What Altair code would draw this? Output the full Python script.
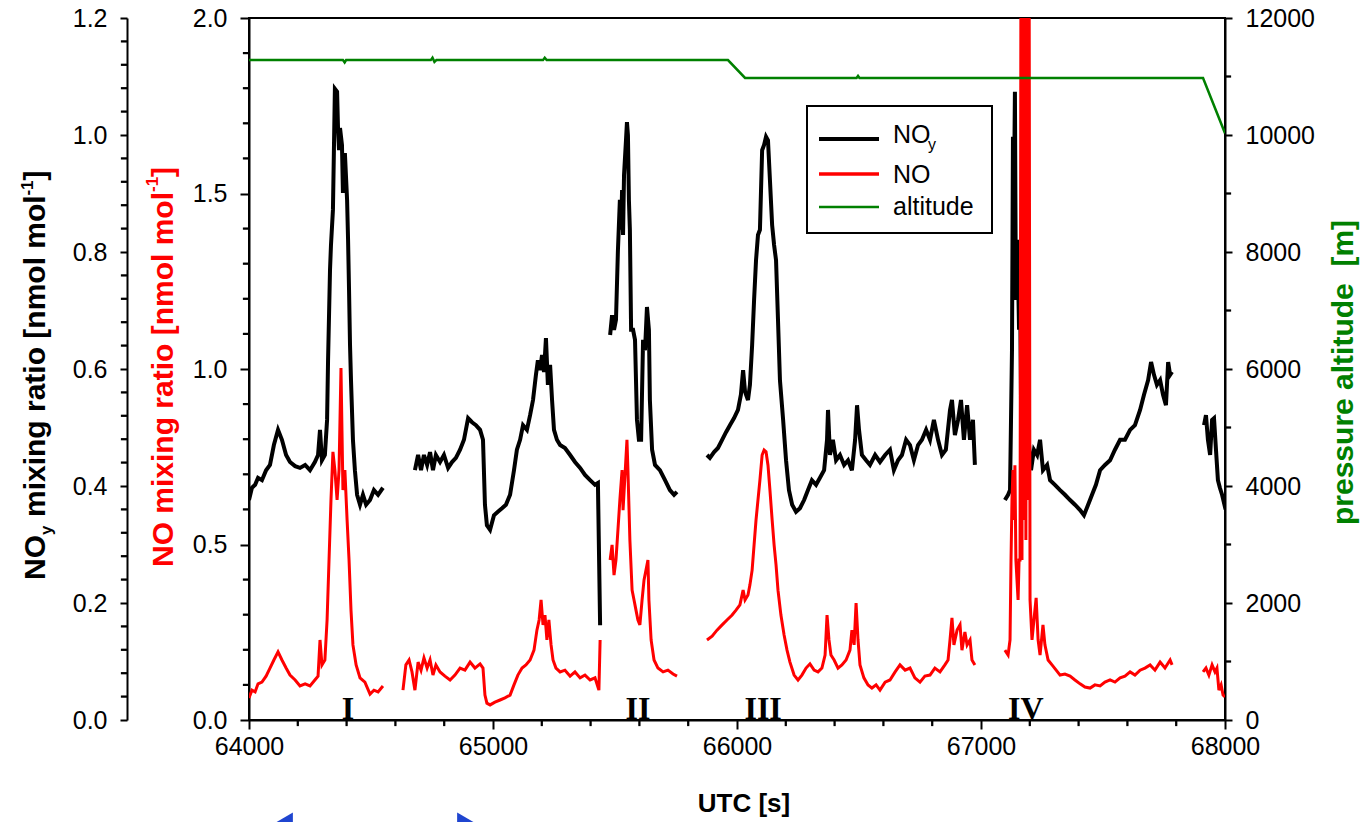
import altair as alt
import pandas as pd

# ---------------- data (UTC seconds, mixing ratios in nmol/mol, altitude in m) ----------------
noy_seg1 = [(64000, .376), (64012, .397), (64025, .402), (64037, .414), (64053, .410), (64070, .427),
            (64086, .436), (64102, .470), (64119, .496), (64135, .479), (64152, .453), (64168, .441),
            (64189, .434), (64209, .431), (64230, .436), (64250, .427), (64270, .441), (64283, .453),
            (64291, .496), (64299, .444), (64311, .453), (64320, .513), (64324, .615), (64332, .769),
            (64336, .812), (64344, .872), (64348, .974), (64352, 1.079), (64361, 1.074), (64365, 1.009),
            (64369, .974), (64373, 1.012), (64381, .983), (64385, .901), (64393, .969), (64402, .889),
            (64406, .821), (64410, .735), (64414, .641), (64418, .581), (64426, .479), (64434, .427),
            (64443, .385), (64455, .368), (64467, .385), (64480, .368), (64496, .376), (64512, .393),
            (64529, .385), (64549, .397)]
noy_seg2 = [(64680, .427), (64693, .453), (64705, .427), (64717, .453), (64730, .436), (64742, .458),
            (64754, .427), (64766, .453), (64783, .441), (64799, .453), (64816, .431), (64832, .441),
            (64848, .448), (64865, .462), (64881, .479), (64898, .516), (64914, .509), (64930, .504),
            (64947, .496), (64959, .479), (64967, .368), (64975, .333), (64988, .325), (65004, .350),
            (65020, .356), (65037, .362), (65053, .368), (65070, .385), (65086, .427), (65098, .462),
            (65111, .479), (65123, .504), (65139, .496), (65152, .521), (65164, .547), (65176, .590),
            (65184, .615), (65193, .598), (65201, .624), (65209, .595), (65217, .653), (65225, .573),
            (65234, .607), (65242, .547), (65250, .496), (65262, .479), (65275, .470), (65295, .465),
            (65316, .453), (65336, .441), (65357, .431), (65377, .419), (65398, .410), (65418, .402),
            (65430, .405), (65439, .162)]
noy_seg3 = [(65480, .658), (65488, .692), (65496, .667), (65504, .684), (65512, .803), (65520, .889),
            (65525, .838), (65529, .906), (65533, .829), (65537, .932), (65545, .991), (65549, 1.022),
            (65553, 1.000), (65557, .889), (65561, .838), (65566, .667), (65574, .667), (65582, .650),
            (65590, .513), (65598, .479), (65607, .479), (65615, .650), (65623, .632), (65631, .706),
            (65639, .667), (65643, .547), (65652, .462), (65664, .436), (65684, .427), (65705, .410),
            (65725, .393), (65742, .385), (65754, .390)]
noy_seg4 = [(65877, .453), (65889, .448), (65906, .458), (65922, .465), (65939, .479), (65955, .492),
            (65971, .504), (65988, .516), (66004, .530), (66016, .556), (66025, .598), (66033, .561),
            (66045, .547), (66053, .573), (66062, .641), (66070, .718), (66078, .786), (66086, .829),
            (66094, .838), (66103, .974), (66111, .983), (66119, .997), (66127, .991), (66135, .923),
            (66144, .846), (66152, .812), (66160, .786), (66168, .684), (66176, .581), (66189, .513),
            (66201, .444), (66213, .393), (66226, .368), (66242, .356), (66258, .362), (66275, .376),
            (66291, .393), (66307, .410), (66324, .402), (66340, .414), (66357, .427), (66369, .479),
            (66373, .530), (66381, .453), (66393, .479), (66406, .444), (66422, .453), (66439, .436),
            (66455, .444), (66471, .427), (66484, .479), (66492, .538), (66500, .496), (66512, .453),
            (66529, .444), (66545, .436), (66566, .453), (66586, .441), (66607, .453), (66627, .462),
            (66643, .427), (66660, .444), (66676, .453), (66693, .479), (66709, .470), (66725, .444),
            (66742, .470), (66758, .479), (66775, .496), (66791, .479), (66807, .513), (66824, .479),
            (66840, .453), (66856, .462), (66873, .530), (66881, .547), (66893, .487), (66906, .513),
            (66918, .547), (66930, .479), (66943, .538), (66955, .479), (66967, .513), (66975, .436)]
noy_seg5 = [(67098, .376), (67111, .385), (67119, .393), (67123, .513), (67127, .632), (67131, .997),
            (67135, .889), (67139, 1.074), (67143, .718), (67148, .821), (67152, .757), (67156, .667),
            (67160, .752), (67164, .547), (67172, .496), (67180, .444), (67188, .513), (67197, .470),
            (67205, .427), (67217, .462), (67230, .453), (67242, .479), (67254, .427), (67271, .436),
            (67283, .410), (67303, .402), (67324, .393), (67344, .385), (67365, .376), (67385, .368),
            (67406, .359), (67422, .350), (67439, .368), (67455, .385), (67471, .402), (67488, .427),
            (67508, .436), (67529, .444), (67549, .462), (67570, .479), (67590, .479), (67611, .496),
            (67631, .504), (67652, .530), (67668, .556), (67685, .581), (67697, .612), (67709, .590),
            (67721, .573), (67734, .581), (67746, .556), (67758, .538), (67767, .612), (67775, .590),
            (67783, .595)]
noy_seg6 = [(67914, .504), (67922, .521), (67930, .479), (67939, .453), (67947, .513), (67955, .516),
            (67963, .462), (67971, .410), (67979, .397), (67988, .385), (67996, .371), (68000, .376)]

no_seg1 = [(64000, .063), (64012, .085), (64025, .080), (64037, .103), (64053, .108), (64070, .125),
           (64086, .148), (64102, .171), (64119, .194), (64135, .171), (64152, .148), (64168, .128),
           (64189, .114), (64209, .097), (64230, .103), (64250, .097), (64270, .114), (64283, .125),
           (64291, .228), (64299, .157), (64311, .171), (64320, .285), (64328, .456), (64336, .627),
           (64344, .764), (64352, .712), (64361, .627), (64369, .712), (64377, 1.003), (64381, .826),
           (64385, .655), (64393, .712), (64402, .570), (64410, .456), (64418, .313), (64426, .214),
           (64439, .157), (64455, .120), (64475, .108), (64496, .074), (64512, .085), (64529, .080),
           (64549, .097)]
no_seg2 = [(64631, .085), (64643, .157), (64656, .171), (64668, .137), (64680, .085), (64693, .165),
           (64705, .142), (64717, .177), (64730, .148), (64742, .171), (64754, .128), (64766, .157),
           (64783, .137), (64803, .125), (64824, .114), (64844, .128), (64865, .148), (64885, .142),
           (64906, .165), (64926, .148), (64947, .160), (64959, .148), (64967, .071), (64975, .048),
           (64988, .043), (65008, .051), (65029, .057), (65049, .063), (65070, .071), (65086, .100),
           (65102, .128), (65119, .148), (65135, .157), (65152, .171), (65168, .199), (65180, .256),
           (65189, .285), (65197, .342), (65205, .271), (65213, .299), (65221, .228), (65229, .285),
           (65238, .214), (65246, .171), (65258, .148), (65275, .137), (65295, .142), (65316, .125),
           (65336, .137), (65357, .120), (65377, .128), (65398, .114), (65418, .120), (65434, .085),
           (65439, .228)]
no_seg3 = [(65480, .456), (65488, .499), (65496, .413), (65504, .456), (65512, .541), (65520, .627),
           (65529, .712), (65533, .598), (65541, .698), (65549, .798), (65553, .712), (65561, .513),
           (65570, .370), (65578, .342), (65586, .313), (65594, .285), (65602, .271), (65611, .342),
           (65619, .399), (65627, .427), (65635, .456), (65639, .342), (65648, .228), (65660, .171),
           (65676, .148), (65697, .137), (65717, .142), (65738, .131), (65754, .125)]
no_seg4 = [(65877, .228), (65898, .239), (65918, .256), (65939, .271), (65959, .285), (65980, .299),
           (65996, .313), (66012, .328), (66025, .370), (66033, .342), (66045, .356), (66053, .385),
           (66062, .427), (66070, .499), (66078, .570), (66086, .627), (66094, .684), (66103, .755),
           (66111, .769), (66119, .764), (66127, .726), (66135, .655), (66144, .570), (66152, .499),
           (66160, .442), (66168, .370), (66180, .299), (66193, .242), (66205, .199), (66217, .165),
           (66234, .128), (66250, .114), (66266, .128), (66283, .148), (66299, .160), (66316, .142),
           (66332, .137), (66348, .148), (66361, .185), (66369, .299), (66377, .228), (66385, .185),
           (66398, .171), (66414, .148), (66430, .157), (66447, .171), (66463, .199), (66471, .256),
           (66480, .214), (66488, .333), (66496, .228), (66504, .157), (66520, .120), (66537, .100),
           (66553, .091), (66570, .100), (66586, .085), (66607, .108), (66627, .114), (66648, .137),
           (66668, .157), (66689, .142), (66709, .148), (66729, .120), (66750, .108), (66770, .125),
           (66791, .128), (66811, .148), (66832, .137), (66852, .157), (66865, .171), (66873, .228),
           (66881, .291), (66889, .214), (66902, .256), (66914, .271), (66922, .199), (66934, .251),
           (66943, .214), (66955, .228), (66963, .171), (66975, .157)]
no_seg5 = [(67098, .199), (67111, .185), (67119, .228), (67123, .456), (67127, .627), (67131, .712),
           (67135, .570), (67139, .726), (67143, .456), (67152, .342), (67156, .456), (67160, .456),
           (67164, 2.3), (67168, .456), (67172, 2.3), (67176, .570), (67180, 2.3), (67184, .513),
           (67188, 2.3), (67193, .627), (67197, 2.3), (67201, .342), (67209, .228), (67217, .285),
           (67226, .348), (67234, .228), (67242, .185), (67254, .271), (67262, .214), (67275, .171),
           (67291, .157), (67308, .142), (67324, .128), (67344, .131), (67365, .125), (67385, .114),
           (67406, .103), (67426, .094), (67447, .091), (67467, .100), (67488, .097), (67508, .108),
           (67529, .114), (67549, .108), (67570, .120), (67590, .125), (67611, .137), (67631, .128),
           (67652, .142), (67672, .148), (67693, .157), (67713, .142), (67734, .165), (67754, .148),
           (67775, .171), (67783, .157)]
no_seg6 = [(67910, .137), (67922, .148), (67934, .128), (67947, .157), (67959, .137), (67967, .148),
           (67975, .085), (67984, .100), (67992, .071), (68000, .066)]

altitude = [(64000, 11280), (64385, 11280), (64392, 11240), (64398, 11280), (64745, 11280),
            (64752, 11320), (64760, 11250), (64768, 11280), (65205, 11280), (65212, 11320),
            (65220, 11280), (65963, 11280), (66033, 10975), (66490, 10975), (66496, 11010),
            (66502, 10975), (67910, 10975), (68000, 10030)]

event_labels = ["I", "II", "III", "IV"]
event_times = [64406, 65594, 66107, 67184]

arrow_times = [64143, 64890]
arrow_shapes = ["triangle-left", "triangle-right"]

x_ticks = [64000, 65000, 66000, 67000, 68000]
no_ticks = [0.0, 0.5, 1.0, 1.5, 2.0]
noy_ticks = [0.0, 0.2, 0.4, 0.6, 0.8, 1.0, 1.2]
alt_ticks = [0, 2000, 4000, 6000, 8000, 10000, 12000]

x_minor_ticks = [64200, 64400, 64600, 64800, 65200, 65400, 65600, 65800,
                 66200, 66400, 66600, 66800, 67200, 67400, 67600, 67800]
no_minor_ticks = [0.1, 0.2, 0.3, 0.4, 0.6, 0.7, 0.8, 0.9, 1.1, 1.2, 1.3, 1.4, 1.6, 1.7, 1.8, 1.9]
noy_minor_ticks = [0.04, 0.08, 0.12, 0.16, 0.24, 0.28, 0.32, 0.36, 0.44, 0.48, 0.52, 0.56,
                   0.64, 0.68, 0.72, 0.76, 0.84, 0.88, 0.92, 0.96, 1.04, 1.08, 1.12, 1.16]
alt_minor_ticks = [1000, 3000, 5000, 7000, 9000, 11000]


# ---------------- tables ----------------
def seg_frame(segs, name):
    rows = []
    for i, seg in enumerate(segs):
        for t, v in seg:
            rows.append({"utc": t, name: v, "seg": i})
    return pd.DataFrame(rows)


noy_df = seg_frame([noy_seg1, noy_seg2, noy_seg3, noy_seg4, noy_seg5, noy_seg6], "noy")
no_df = seg_frame([no_seg1, no_seg2, no_seg3, no_seg4, no_seg5, no_seg6], "no")
alt_df = pd.DataFrame(altitude, columns=["utc", "alt"])
ev_df = pd.DataFrame({"utc": event_times, "lab": event_labels})
arr_df = pd.DataFrame({"utc": arrow_times, "shape": arrow_shapes})

FONT = "Liberation Sans"
LEFT, TOP = 249, 18
W, H = 976, 702


def xscale():
    return alt.Scale(domain=[64000, 68000], nice=False, zero=False)


def major_axis(orient, values, fmt, tick, offset=0, pad=13):
    return alt.Axis(orient=orient, values=values, format=fmt, tickSize=tick, tickWidth=2,
                    domainWidth=2, domainColor="black", tickColor="black", labelColor="black",
                    labelFont=FONT, labelFontSize=25, labelPadding=pad, offset=offset,
                    grid=False, title=None, labelFlush=False, labelOverlap=False)


x_major = major_axis("bottom", x_ticks, "d", 9, pad=5)

no_scale = alt.Scale(domain=[0, 2.0], nice=False, zero=True)
noy_scale = alt.Scale(domain=[0, 1.2], nice=False, zero=True)
alt_scale = alt.Scale(domain=[0, 12000], nice=False, zero=True)

noy_line = alt.Chart(noy_df).mark_line(color="black", strokeWidth=4, clip=True).encode(
    x=alt.X("utc:Q", scale=xscale(), axis=x_major),
    y=alt.Y("noy:Q", scale=noy_scale, axis=major_axis("left", noy_ticks, ".1f", 7, offset=122)),
    detail="seg:N")

no_line = alt.Chart(no_df).mark_line(color="#ff0000", strokeWidth=3, clip=True).encode(
    x=alt.X("utc:Q", scale=xscale(), axis=None),
    y=alt.Y("no:Q", scale=no_scale, axis=major_axis("left", no_ticks, ".1f", 9)),
    detail="seg:N")

alt_line = alt.Chart(alt_df).mark_line(color="#008000", strokeWidth=2.5, clip=True).encode(
    x=alt.X("utc:Q", scale=xscale(), axis=None),
    y=alt.Y("alt:Q", scale=alt_scale, axis=major_axis("right", alt_ticks, "d", 7)))


# minor ticks: each built from three small filled squares, placed through the same scales
def minor_x(values):
    df = pd.DataFrame({"tickval": values})
    return [alt.Chart(df).mark_point(shape="square", size=5, color="black", filled=True, opacity=1).encode(
        x=alt.X("tickval:Q", scale=xscale(), axis=None), y=alt.value(H + off)) for off in (1, 3, 5)]


def minor_y(values, scale, offsets):
    df = pd.DataFrame({"tickval": values})
    return [alt.Chart(df).mark_point(shape="square", size=5, color="black", filled=True, opacity=1).encode(
        y=alt.Y("tickval:Q", scale=scale, axis=None), x=alt.value(off)) for off in offsets]


minors = (minor_x(x_minor_ticks)
          + minor_y(noy_minor_ticks, noy_scale, (-123, -125, -127))
          + minor_y(no_minor_ticks, no_scale, (-1, -3, -5))
          + minor_y(alt_minor_ticks, alt_scale, (W + 1, W + 3, W + 5)))

events = alt.Chart(ev_df).mark_text(font="Liberation Serif", fontWeight="bold", fontSize=32,
                                    align="center", baseline="alphabetic", color="black").encode(
    x=alt.X("utc:Q", scale=xscale(), axis=None), y=alt.value(H - 1), text="lab:N")

arrows = alt.Chart(arr_df).mark_point(filled=True, size=433, color="#1f45d0", opacity=1,
                                      strokeWidth=0, clip=False).encode(
    x=alt.X("utc:Q", scale=xscale(), axis=None), y=alt.value(823 - TOP),
    shape=alt.Shape("shape:N", scale=None))


def txt(s, x, y, size, color="black", angle=0, align="left", bold=True, font=FONT):
    kw = dict(align=align, baseline="alphabetic", fontSize=size, font=font, color=color,
              fontWeight="bold" if bold else "normal")
    if angle:
        kw["angle"] = angle
    return alt.Chart(pd.DataFrame({"s": [s]})).mark_text(**kw).encode(
        x=alt.value(x - LEFT), y=alt.value(y - TOP), text="s:N")


titles = [
    # NOy axis title (black)
    txt("NO", 45, 580, 30, angle=270),
    txt("y", 52, 535, 17, angle=270),
    txt("mixing ratio [nmol mol", 45, 517, 30, angle=270),
    txt("-1", 33, 195.6, 17, angle=270),
    txt("]", 45, 180.5, 30, angle=270),
    # NO axis title (red)
    txt("NO mixing ratio [nmol mol", 173, 567, 30, color="#ff0000", angle=270),
    txt("-1", 158, 192, 17, color="#ff0000", angle=270),
    txt("]", 173, 177, 30, color="#ff0000", angle=270),
    # altitude axis title (green)
    txt("pressure altitude\u00a0 [m]", 1353, 525, 30, color="#008000", angle=270),
    # x title
    txt("UTC [s]", 744, 812, 26, align="center"),
]

legend_box = alt.Chart(pd.DataFrame({"a": [0]})).mark_rect(fill="white", stroke="black", strokeWidth=2).encode(
    x=alt.value(807 - LEFT), x2=alt.value(992 - LEFT), y=alt.value(106 - TOP), y2=alt.value(233 - TOP))


def leg_rule(y, color, w):
    return alt.Chart(pd.DataFrame({"a": [0]})).mark_rule(color=color, strokeWidth=w).encode(
        x=alt.value(819 - LEFT), x2=alt.value(879 - LEFT), y=alt.value(y - TOP))


legend = [
    legend_box,
    leg_rule(139, "black", 4),
    leg_rule(174, "#ff0000", 3.5),
    leg_rule(207, "#008000", 2.5),
    txt("NO", 893, 143, 25, bold=False),
    txt("y", 928, 150, 16, bold=False),
    txt("NO", 893, 183, 25, bold=False),
    txt("altitude", 893, 215, 25, bold=False),
]

chart = alt.layer(
    noy_line, no_line, alt_line, events, arrows, *minors, *legend, *titles
).resolve_scale(
    x="independent", y="independent"
).properties(
    width=W, height=H,
    autosize=alt.AutoSizeParams(type="none"),
    padding={"left": LEFT, "top": TOP, "right": 1365 - LEFT - W, "bottom": 822 - TOP - H},
    background="white",
).configure_view(stroke="black", strokeWidth=2)

chart.save("out.html", embed_options={"renderer": "svg", "actions": False})
